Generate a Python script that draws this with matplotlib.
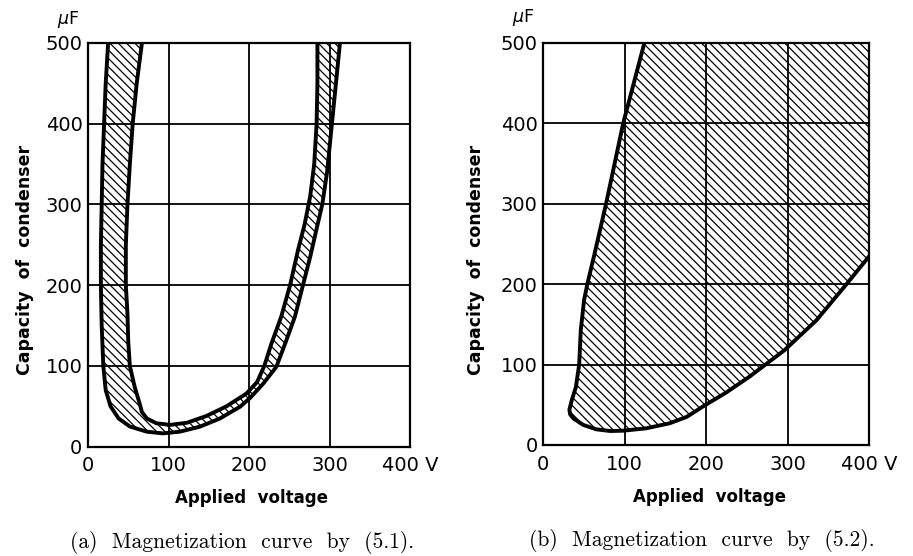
import matplotlib.pyplot as plt

W, H = 913, 556

# tick values
volt_ticks = [0, 100, 200, 300, 400]
volt_labels = ['0', '100', '200', '300', '400 V']
cap_ticks = [0, 100, 200, 300, 400, 500]
cap_labels = ['0', '100', '200', '300', '400', '500']

# (a) band between outer and inner boundary (V, uF)
a_outer_v = [25, 22, 20, 18, 17, 16, 16, 17, 19, 22, 28, 38, 52, 73, 93, 114,
             139, 164, 189, 201, 218, 234, 245, 257, 267, 276, 284, 291, 297, 302, 307, 313]
a_outer_c = [500, 450, 400, 350, 300, 250, 200, 150, 100, 70, 50, 35, 25, 18.6, 16.5, 18.6,
             24.8, 35, 49.6, 60, 78.5, 99, 128, 161, 200, 235, 270, 300, 340, 390, 440, 500]
a_inner_v = [67, 60.5, 55.5, 52, 49, 47, 47, 49, 50, 52, 58, 64, 67, 73, 85, 102,
             123, 147, 172, 197, 210, 219, 228, 240, 251, 261, 269, 276, 281, 284, 285, 285]
a_inner_c = [500, 450, 400, 350, 300, 250, 200, 165, 130, 100, 74, 54, 43, 35, 29, 27,
             29.7, 38, 50, 66, 80, 100, 128, 161, 200, 244, 275, 310, 350, 400, 450, 500]

# (b) boundary of the region, closed by the top and right edges
b_v = [124, 98, 77, 62, 54, 50, 46, 44, 40, 35, 32, 33, 37, 49, 65, 82, 98,
       126, 155, 176, 196, 224, 253, 296, 335, 372, 400]
b_c = [500, 400, 300, 234, 200, 180, 143, 100, 72, 56, 44, 38, 33, 25, 19.5, 17.4, 17.8,
       20.7, 27, 35, 48, 65, 85, 118, 155, 200, 235]

captions = ['(a)  Magnetization  curve  by  (5.1).',
            '(b)  Magnetization  curve  by  (5.2).']

plt.rcParams['hatch.linewidth'] = 0.9
plt.rcParams['hatch.color'] = 'black'

fig = plt.figure(figsize=(W / 100, H / 100), dpi=100)
ax_a = fig.add_axes([88 / W, 1 - 446.7 / H, 322 / W, 403.7 / H])
ax_b = fig.add_axes([543.3 / W, 1 - 445 / H, 326 / W, 402 / H])


def setup(ax):
    ax.set_xlim(0, 400)
    ax.set_ylim(0, 500)
    ax.set_xticks(volt_ticks)
    ax.set_xticklabels(volt_labels)
    ax.set_yticks(cap_ticks)
    ax.set_yticklabels(cap_labels)
    ax.tick_params(length=0, labelsize=14, colors='black')
    ax.tick_params(axis='x', pad=7)
    ax.tick_params(axis='y', pad=4)
    ax.grid(True, color='black', lw=1.3)
    ax.set_axisbelow(False)
    for s in ax.spines.values():
        s.set_linewidth(1.6)
        s.set_zorder(5)


setup(ax_a)
setup(ax_b)

# (a) hatched band
poly_v = a_outer_v + a_inner_v[::-1]
poly_c = a_outer_c + a_inner_c[::-1]
ax_a.fill(poly_v, poly_c, facecolor='none', edgecolor='black', hatch='\\\\\\\\', lw=0, zorder=1)
ax_a.plot(a_outer_v, a_outer_c, color='black', lw=2.8, solid_joinstyle='round', zorder=4)
ax_a.plot(a_inner_v, a_inner_c, color='black', lw=2.8, solid_joinstyle='round', zorder=4)

# (b) hatched region
ax_b.fill(b_v + [400], b_c + [500], facecolor='none', edgecolor='black', hatch='\\\\\\\\', lw=0, zorder=1)
ax_b.plot(b_v, b_c, color='black', lw=2.8, solid_joinstyle='round', zorder=4)


def ftext(px, py, s, **kw):
    fig.text(px / W, 1 - py / H, s, ha='center', va='center', **kw)


ftext(68, 19, r'$\mu$F', fontsize=12.5)
ftext(523, 17, r'$\mu$F', fontsize=12.5)
ftext(25, 260, 'Capacity  of  condenser', rotation=90, fontsize=12.5, fontweight='bold')
ftext(476, 260, 'Capacity  of  condenser', rotation=90, fontsize=12.5, fontweight='bold')
ftext(251, 498, 'Applied  voltage', fontsize=12, fontweight='bold')
ftext(709, 497, 'Applied  voltage', fontsize=12, fontweight='bold')
ftext(242, 542, captions[0], fontsize=15.5, family=['cmr10', 'DejaVu Serif'])
ftext(702, 541, captions[1], fontsize=15.5, family=['cmr10', 'DejaVu Serif'])

fig.savefig('out.png', dpi=100)
